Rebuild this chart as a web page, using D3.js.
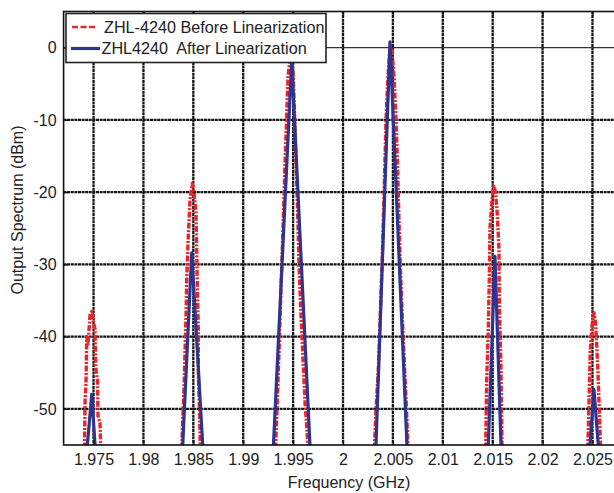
<!DOCTYPE html>
<html><head><meta charset="utf-8">
<script src="https://cdn.jsdelivr.net/npm/d3@7"></script>
<style>body{margin:0;background:#fff}svg{display:block}text{font-family:"Liberation Sans",Arial,Helvetica,sans-serif;fill:#222}</style>
</head><body>
<script>
// ---- data ----
const xTicks = [1.975,1.98,1.985,1.99,1.995,2,2.005,2.01,2.015,2.02,2.025];
const xTickLabels = ["1.975","1.98","1.985","1.99","1.995","2","2.005","2.01","2.015","2.02","2.025"];
const yTicks = [0,-10,-20,-30,-40,-50];
const yTickLabels = ["0","-10","-20","-30","-40","-50"];
const seriesNames = ["ZHL-4240 Before Linearization","ZHL4240  After Linearization"];

// Before linearization (null = break between tones)
const redFreq = [
 1.97408,1.97415,1.97425,1.97432,1.97445,1.97465,1.97485,1.97500,1.97515,1.97520,1.97538,1.97545,1.97565,1.97575, null,
 1.98382,1.98392,1.98407,1.98417,1.98427,1.98434,1.98450,1.98467,1.98490,1.98507,1.98527,1.98534,1.98540,1.98550,1.98550,1.98562,1.98572, null,
 1.99319,1.99339,1.99359,1.99379,1.99399,1.99419,1.99434,1.99449,1.99464,1.99479,1.99499,1.99514,1.99529,1.99544,1.99559,1.99579,1.99599,1.99619,1.99639,1.99654, null,
 2.00311,2.00331,2.00356,2.00376,2.00396,2.00416,2.00431,2.00451,2.00471,2.00491,2.00511,2.00531,2.00546,2.00561,2.00576,2.00596,2.00616,2.00636,2.00656, null,
 2.01428,2.01433,2.01440,2.01456,2.01466,2.01473,2.01493,2.01513,2.01528,2.01546,2.01563,2.01566,2.01573,2.01583,2.01588,2.01596, null,
 2.02450,2.02460,2.02468,2.02478,2.02495,2.02515,2.02530,2.02542,2.02555,2.02568,2.02585
];
const redDb = [
 -57,-49,-46,-40,-41,-37,-36.5,-38,-39,-44,-46,-51,-52,-57, null,
 -57,-52,-47,-42,-37,-32,-26,-21,-18.8,-20,-23,-28,-33,-39,-45,-50,-57, null,
 -57,-50,-42,-33,-25,-16,-10,-4,-2.2,-2.0,-3,-9,-16,-22,-30,-37,-43,-49,-53,-57, null,
 -57,-50,-44,-36,-28,-18,-10,-4,0.3,-0.5,-4,-10,-16,-24,-31,-38,-44,-50,-57, null,
 -57,-52,-46,-39,-32,-25,-21,-19.2,-20,-23,-28,-34,-39,-44,-50,-57, null,
 -57,-52,-47.5,-42,-38.5,-36.7,-38,-41,-45,-50,-57
];
// After linearization
const blueFreq = [
 1.97407,1.97482,1.97539, null,
 1.98377,1.98484,1.98615, null,
 1.99286,1.99486,1.99686, null,
 2.00318,2.00471,2.00656, null,
 2.01443,2.01523,2.01595, null,
 2.02449,2.02515,2.02586
];
const blueDb = [
 -60,-48,-60, null,
 -60,-28.4,-60, null,
 -60,-1.8,-60, null,
 -60,0.8,-60, null,
 -60,-28.9,-60, null,
 -60,-47.3,-60
];

// ---- chart ----
const W = 614, H = 493;
const FONT = 16;
const svg = d3.select("body").append("svg").attr("width", W).attr("height", H);
const x = d3.scaleLinear().domain([1.972, 2.028]).range([63.6, 622.4]);
const y = d3.scaleLinear().domain([-55, 5]).range([445, 11.5]);
const x0 = x.range()[0], x1 = x.range()[1], yb = y.range()[0], yt = y.range()[1];

svg.append("defs").append("clipPath").attr("id","clip")
  .append("rect").attr("x", x0).attr("y", yt).attr("width", x1-x0).attr("height", yb-yt);

// grid
const grid = svg.append("g");
grid.selectAll("line.v").data(xTicks).join("line")
  .attr("x1", d=>x(d)).attr("x2", d=>x(d)).attr("y1", yt).attr("y2", yb)
  .attr("stroke", "#151515").attr("stroke-width", 2.3).attr("stroke-dasharray","3,0.6");
grid.selectAll("line.h").data(yTicks).join("line")
  .attr("x1", x0).attr("x2", x1).attr("y1", d=>y(d)).attr("y2", d=>y(d))
  .attr("stroke", d=> d===0 ? "#333" : "#151515").attr("stroke-width", d=> d===0 ? 1.2 : 2.3)
  .attr("stroke-dasharray", d=> d===0 ? null : "3,0.6");

// lines
const pts = (fs, vs) => fs.map((f,i)=>[f, vs[i]]);
const line = d3.line().defined(d=>d[0]!==null && d[1]!==null).x(d=>x(d[0])).y(d=>y(d[1]));
const plot = svg.append("g").attr("clip-path","url(#clip)");
plot.append("path").datum(pts(redFreq, redDb)).attr("d", line)
  .attr("fill","none").attr("stroke","#e8262c").attr("stroke-width",3.4)
  .attr("stroke-dasharray","6,1.5,2,1.5").attr("stroke-linejoin","round");
plot.append("path").datum(pts(blueFreq, blueDb)).attr("d", line)
  .attr("fill","none").attr("stroke","#2e3590").attr("stroke-width",3.2).attr("stroke-linejoin","round");

// frame
svg.append("rect").attr("x", x0).attr("y", yt).attr("width", x1-x0).attr("height", yb-yt)
  .attr("fill","none").attr("stroke","#111").attr("stroke-width",1.6);

// axes ticks (inward) & labels
const xAxis = d3.axisBottom(x).tickValues(xTicks).tickFormat((d,i)=>xTickLabels[i]).tickSizeInner(-5).tickSizeOuter(0).tickPadding(8.5);
const gx = svg.append("g").attr("transform", `translate(0,${yb})`).call(xAxis);
gx.select(".domain").remove();
gx.selectAll("line").attr("stroke","#111").attr("stroke-width",1.2);
gx.selectAll("text").attr("font-size", FONT).attr("fill","#222").attr("font-family","Liberation Sans, Arial, sans-serif");
const xTop = d3.axisTop(x).tickValues(xTicks).tickFormat("").tickSizeInner(-5).tickSizeOuter(0);
const gxt = svg.append("g").attr("transform", `translate(0,${yt})`).call(xTop);
gxt.select(".domain").remove();
gxt.selectAll("line").attr("stroke","#111").attr("stroke-width",1.2);

const yAxis = d3.axisLeft(y).tickValues(yTicks).tickFormat((d,i)=>yTickLabels[i]).tickSizeInner(-5).tickSizeOuter(0).tickPadding(7);
const gy = svg.append("g").attr("transform", `translate(${x0},0)`).call(yAxis);
gy.select(".domain").remove();
gy.selectAll("line").attr("stroke","#111").attr("stroke-width",1.2);
gy.selectAll("text").attr("font-size", FONT).attr("fill","#222").attr("font-family","Liberation Sans, Arial, sans-serif");

svg.append("text").attr("x", 349).attr("y", 488).attr("text-anchor","middle").attr("font-size",FONT).text("Frequency (GHz)");
svg.append("text").attr("transform","translate(23,210) rotate(-90)").attr("text-anchor","middle").attr("font-size",FONT).text("Output Spectrum (dBm)");

// legend
const lg = svg.append("g");
lg.append("rect").attr("x",66).attr("y",13.5).attr("width",260).attr("height",49)
  .attr("fill","#fff").attr("stroke","#222").attr("stroke-width",1.6);
lg.append("line").attr("x1",72).attr("x2",97).attr("y1",27).attr("y2",27)
  .attr("stroke","#e8262c").attr("stroke-width",2.6).attr("stroke-dasharray","6,2.5");
lg.append("line").attr("x1",71).attr("x2",100).attr("y1",48.5).attr("y2",48.5)
  .attr("stroke","#2e3590").attr("stroke-width",3.2);
lg.append("text").attr("x",104).attr("y",32.5).attr("font-size",16.2).text(seriesNames[0]);
lg.append("text").attr("x",101.5).attr("y",54).attr("font-size",16.2).style("white-space","pre").text(seriesNames[1]);
</script>
</body></html>
